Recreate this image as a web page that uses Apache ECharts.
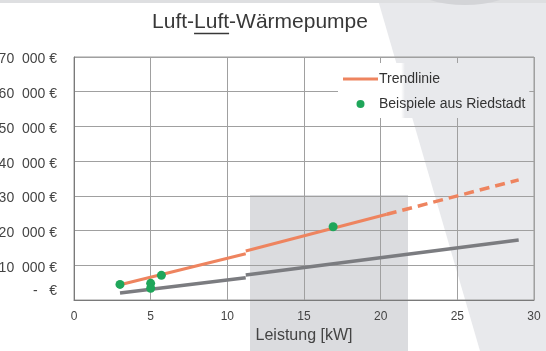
<!DOCTYPE html>
<html>
<head>
<meta charset="utf-8">
<script src="https://cdn.jsdelivr.net/npm/echarts@6/dist/echarts.min.js"></script>
<style>
  html, body { margin: 0; padding: 0; background: #ffffff; }
  #chart { width: 546px; height: 351px; }
</style>
</head>
<body>
<div id="chart"></div>
<script>
// Kosten einer Luft-Luft-Wärmepumpe in Abhängigkeit von der Leistung
const titleParts = ['Luft-', 'Luft', '-Wärmepumpe'];
const xTicks = [0, 5, 10, 15, 20, 25, 30];
const yTicks = [0, 10000, 20000, 30000, 40000, 50000, 60000, 70000];

// Trendlinie: zwei durchgezogene Abschnitte, ab ca. 20 kW gestrichelt
const trendSolidA = [[3, 4400], [11.2, 13300]];
const trendSolidB = [[11.2, 14100], [20.4, 24700]];
const trendDashed = [[20.4, 24700], [29, 34600]];
// untere Linie (grau), ebenfalls zweiteilig
const lowerLineA = [[3, 2000], [11.2, 6400]];
const lowerLineB = [[11.2, 7200], [29, 17300]];
// Beispiele aus Riedstadt
const examples = [[3, 4500], [5, 4800], [5, 3400], [5.7, 7100], [16.9, 21100]];

const FONT = '"Liberation Sans", Arial, sans-serif';
const TITLE_SIZE = 21;
const ORANGE = '#ee845f';
const GRAY = '#7b7c80';

function textWidth(str, size) {
  const ctx = document.createElement('canvas').getContext('2d');
  ctx.font = size + 'px "Liberation Sans"';
  return ctx.measureText(str).width;
}

const fullTitle = titleParts.join('');
const titleW = textWidth(fullTitle, TITLE_SIZE);
const titleLeft = 260 - titleW / 2;
const ulStart = titleLeft + textWidth(titleParts[0], TITLE_SIZE);
const ulEnd = ulStart + textWidth(titleParts[1], TITLE_SIZE);

const chart = echarts.init(document.getElementById('chart'), null, { renderer: 'canvas' });

function yLabel(v) {
  if (v === 0) return '{z|-   €}';
  return String(v / 1000) + '  000 €';
}

function lineSeries(name, data, color, width, type) {
  return {
    name: name, type: 'line', data: data, symbol: 'none', z: 4,
    lineStyle: { color: color, width: width, type: type || 'solid' },
    itemStyle: { color: color }
  };
}

chart.setOption({
  animation: false,
  backgroundColor: '#ffffff',
  textStyle: { fontFamily: FONT },
  title: {
    text: fullTitle,
    left: titleLeft,
    top: 12,
    padding: 0,
    textStyle: { fontSize: TITLE_SIZE, fontWeight: 'normal', color: '#383838', fontFamily: FONT }
  },
  graphic: [
    // Folienhintergrund: hellgraue Fläche rechts mit schräger Kante
    { type: 'polygon', z: -10, silent: true,
      shape: { points: [[378, 0], [546, 0], [546, 351], [480, 351]] },
      style: { fill: '#e8e9ec' } },
    // dunklere Fläche hinter dem Diagramm
    { type: 'rect', z: -9, silent: true,
      shape: { x: 250, y: 195, width: 158, height: 156 },
      style: { fill: '#dbdcdf' } },
    // oberer Rand der Folie
    { type: 'rect', z: -8, silent: true,
      shape: { x: 0, y: 0, width: 546, height: 3 },
      style: { fill: '#dedfe1' } },
    { type: 'ellipse', z: -8, silent: true,
      shape: { cx: 465, cy: -38, rx: 75, ry: 43 },
      style: { fill: '#d3d4d7' } },
    // Unterstreichung im Titel
    { type: 'line', z: 10, silent: true,
      shape: { x1: ulStart, y1: 33.5, x2: ulEnd, y2: 33.5 },
      style: { stroke: '#383838', lineWidth: 1.3 } }
  ],
  grid: {
    left: 74, right: 12, top: 57, bottom: 51,
    outerBoundsMode: 'none',
    containLabel: false,
    show: true, backgroundColor: 'transparent', borderColor: '#9a9a9a', borderWidth: 1
  },
  legend: {
    orient: 'vertical',
    left: 338, top: 63,
    padding: [9, 4, 7, 5],
    itemWidth: 35, itemHeight: 8, itemGap: 11,
    backgroundColor: new echarts.graphic.LinearGradient(0, 0, 1, 0, [
      { offset: 0, color: '#ffffff' },
      { offset: 0.33, color: '#ffffff' },
      { offset: 0.35, color: '#e8e9ec' },
      { offset: 1, color: '#e8e9ec' }
    ]),
    textStyle: { fontSize: 14, color: '#333333', fontFamily: FONT, padding: [0, 0, 0, -4] },
    data: [
      { name: 'Trendlinie', icon: 'path://M0,0L35,0L35,3L0,3Z' },
      { name: 'Beispiele aus Riedstadt', icon: 'circle' }
    ]
  },
  xAxis: {
    type: 'value', min: xTicks[0], max: xTicks[xTicks.length - 1], interval: 5,
    name: 'Leistung [kW]', nameLocation: 'middle', nameGap: 28,
    nameTextStyle: { fontSize: 16, color: '#444444', fontFamily: FONT },
    axisLine: { show: true, lineStyle: { color: '#7a7a7a', width: 1 } },
    axisTick: { show: false },
    axisLabel: { fontSize: 12, color: '#444444', margin: 11, fontFamily: FONT },
    splitLine: { show: true, lineStyle: { color: '#a0a0a0', width: 1 } }
  },
  yAxis: {
    type: 'value', min: yTicks[0], max: yTicks[yTicks.length - 1], interval: 10000,
    axisLine: { show: true, lineStyle: { color: '#7a7a7a', width: 1 } },
    axisTick: { show: false },
    axisLabel: {
      fontSize: 14, color: '#444444', margin: 17, fontFamily: FONT,
      padding: [5, 0, 0, 0],
      formatter: yLabel,
      rich: { z: { fontSize: 14, color: '#444444', fontFamily: FONT, padding: [0, 0, 22, 0] } }
    },
    splitLine: { show: true, lineStyle: { color: '#a0a0a0', width: 1 } }
  },
  series: [
    lineSeries('untere Linie A', lowerLineA, GRAY, 3.5),
    lineSeries('untere Linie B', lowerLineB, GRAY, 3.5),
    lineSeries('Trendlinie', trendSolidA, ORANGE, 3),
    lineSeries('Trendlinie', trendSolidB, ORANGE, 3),
    lineSeries('Trendlinie (Prognose)', trendDashed, ORANGE, 3.5, [10, 6]),
    {
      name: 'Beispiele aus Riedstadt', type: 'scatter', data: examples,
      symbol: 'circle', symbolSize: 9, z: 5,
      itemStyle: { color: '#1fa65a', opacity: 1 }
    }
  ]
});
</script>
</body>
</html>
